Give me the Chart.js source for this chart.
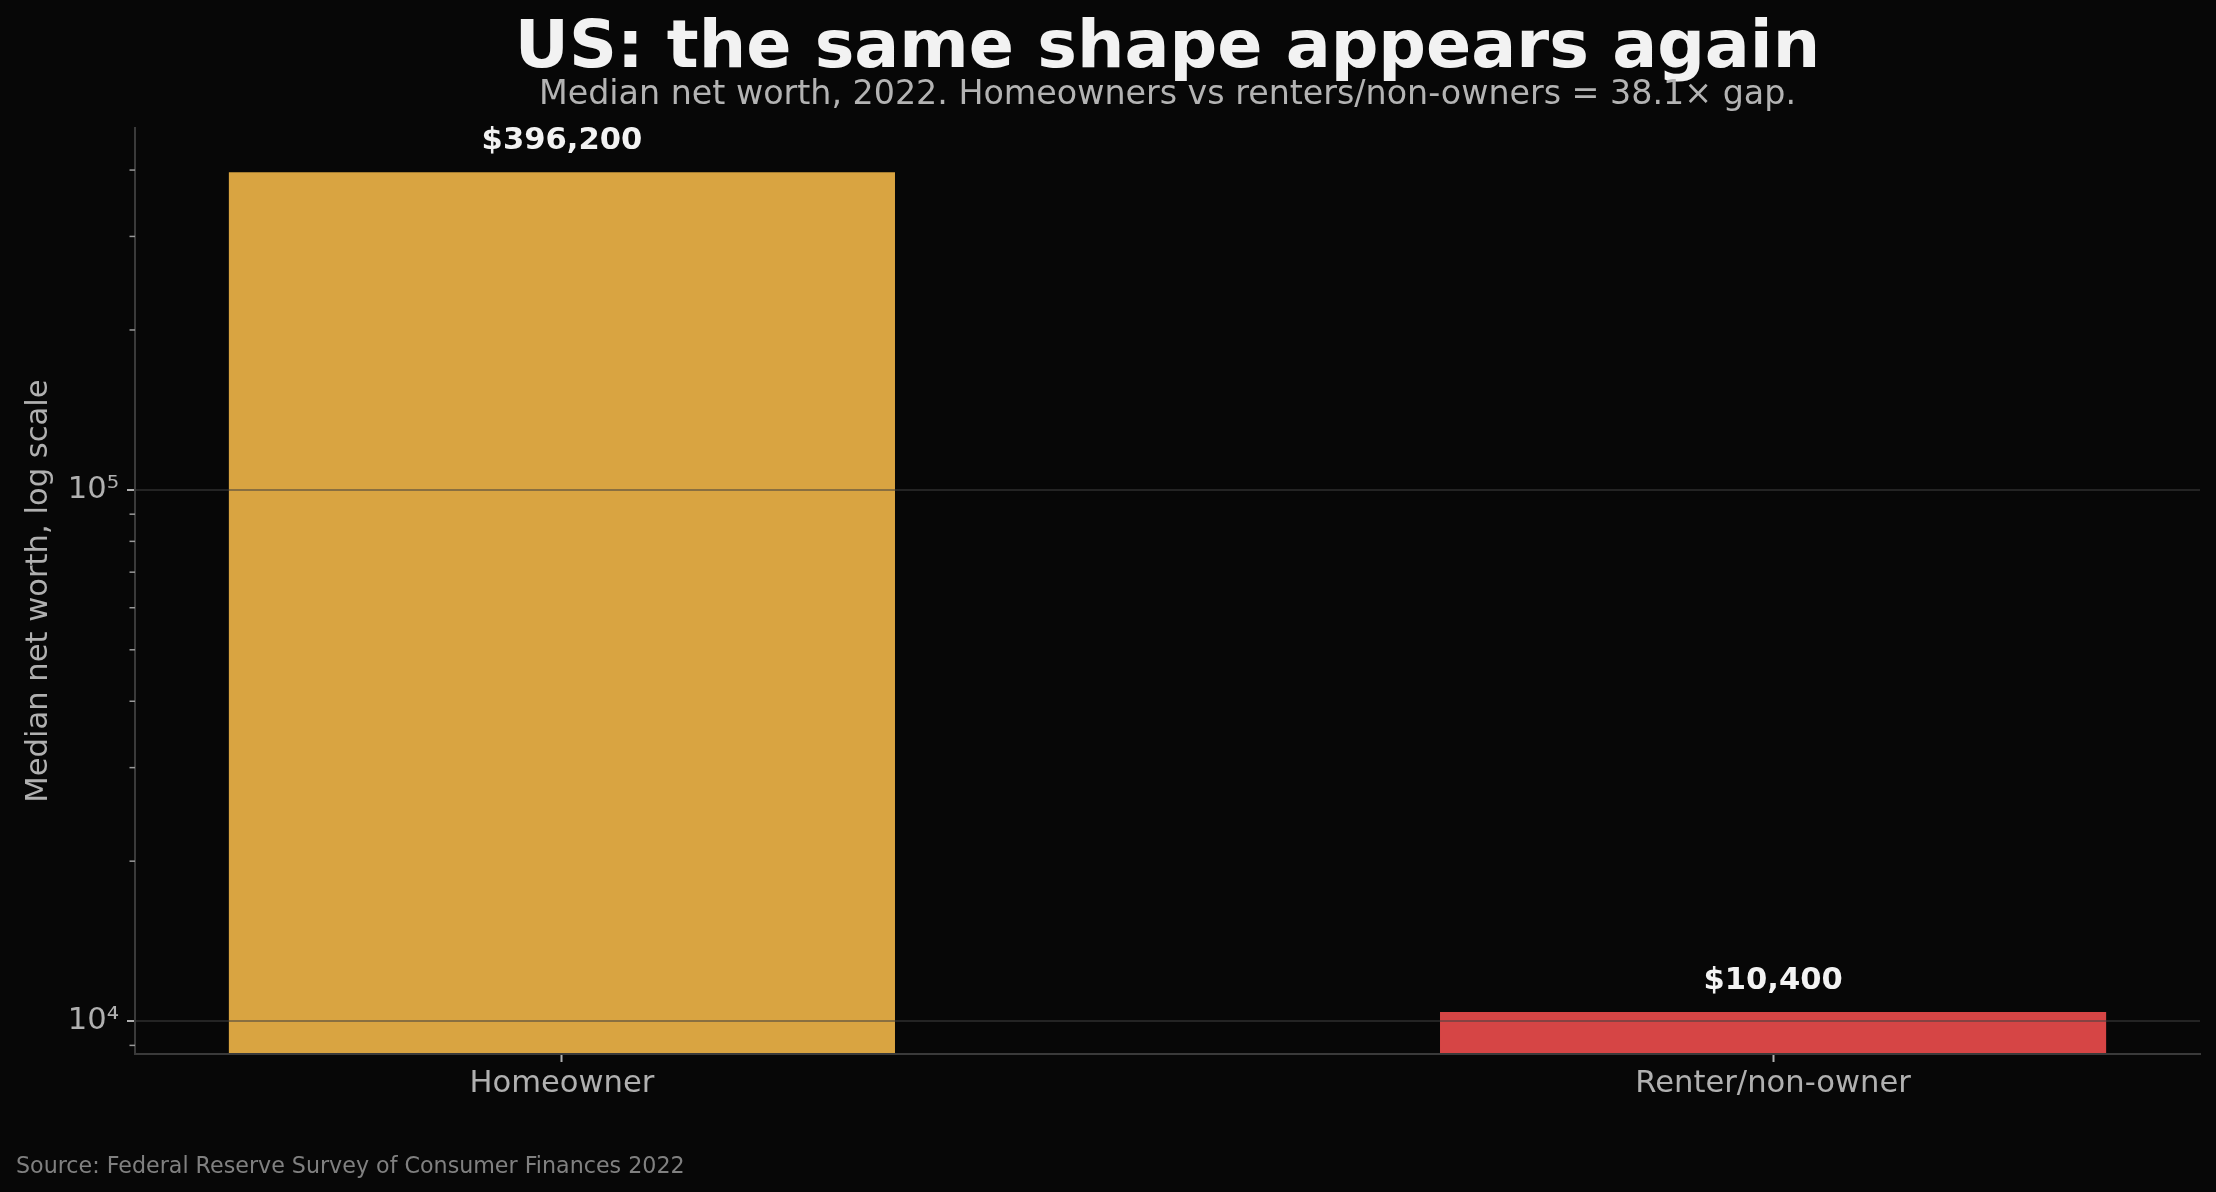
<!DOCTYPE html>
<html>
<head>
<meta charset="utf-8">
<script src="https://cdn.jsdelivr.net/npm/chart.js@4.4.1/dist/chart.umd.min.js"></script>
<style>
    body { margin: 0; background: #070707; font-family: "DejaVu Sans", sans-serif; }
    #wrap { position: relative; width: 2216px; height: 1192px; }
    #chart { position: absolute; left: 0; top: 0; }
    .txt { position: absolute; white-space: nowrap; line-height: normal; }
    #title { left: 135px; width: 2065px; top: 5px; text-align: center; font-size: 66.7px; font-weight: bold; color: #f2f2f2; }
    #subtitle { left: 135px; width: 2065px; top: 73px; text-align: center; font-size: 33.3px; color: #b3b3b3; }
    #source { left: 16px; top: 1152px; font-size: 22.2px; color: #808080; }
</style>
</head>
<body>
<div id="wrap">
    <canvas id="chart" width="2216" height="1192"></canvas>
    <div class="txt" id="title">US: the same shape appears again</div>
    <div class="txt" id="subtitle">Median net worth, 2022. Homeowners vs renters/non-owners = 38.1× gap.</div>
    <div class="txt" id="source">Source: Federal Reserve Survey of Consumer Finances 2022</div>
</div>
<script>
const categories = ["Homeowner", "Renter/non-owner"];
const netWorth = [396200, 10400];
const barColors = ["#d9a441", "#d64545"];

const yTickValues = [9000, 10000, 20000, 30000, 40000, 50000, 60000, 70000, 80000, 90000,
    100000, 200000, 300000, 400000];
const yMajorTicks = [10000, 100000];
const yMajorLabels = ["10⁴", "10⁵"];

const isMajor = (v) => yMajorTicks.indexOf(v) !== -1;

// small minor tick marks on the log axis (chart.js only has one tick length)
const minorTicks = {
    id: "minorTicks",
    afterDraw(chart) {
        const y = chart.scales.y;
        const ctx = chart.ctx;
        ctx.save();
        ctx.strokeStyle = "#9a9a9a";
        ctx.lineWidth = 1.5;
        yTickValues.forEach((v) => {
            if (isMajor(v)) return;
            const py = y.getPixelForValue(v);
            ctx.beginPath();
            ctx.moveTo(y.right - 5.5, py);
            ctx.lineTo(y.right, py);
            ctx.stroke();
        });
        ctx.restore();
    },
};

// "$396,200" above each bar
const valueLabels = {
    id: "valueLabels",
    afterDatasetsDraw(chart) {
        const ctx = chart.ctx;
        const meta = chart.getDatasetMeta(0);
        ctx.save();
        ctx.font = "bold 30.6px 'DejaVu Sans'";
        ctx.fillStyle = "#f2f2f2";
        ctx.textAlign = "center";
        ctx.textBaseline = "alphabetic";
        meta.data.forEach((bar, i) => {
            ctx.fillText("$" + netWorth[i].toLocaleString("en-US"), bar.x, bar.y - 23);
        });
        ctx.restore();
    },
};

Chart.defaults.font.family = "'DejaVu Sans'";

const ctx = document.getElementById("chart").getContext("2d");
new Chart(ctx, {
    type: "bar",
    data: {
        datasets: [
            {
                data: netWorth.map((v, i) => ({ x: i, y: v })),
                backgroundColor: barColors,
                borderWidth: 0,
                categoryPercentage: 1,
                barPercentage: 0.55,
            },
        ],
    },
    options: {
        responsive: false,
        animation: false,
        devicePixelRatio: 1,
        layout: { padding: { top: 128, right: 16, left: 0, bottom: 0 } },
        plugins: {
            legend: { display: false },
            tooltip: { enabled: false },
        },
        scales: {
            x: {
                type: "linear",
                min: -0.3525,
                max: 1.3525,
                offset: false,
                afterBuildTicks: (scale) => {
                    scale.ticks = categories.map((c, i) => ({ value: i }));
                },
                afterFit: (scale) => {
                    scale.height = 138;
                },
                grid: {
                    offset: false,
                    drawOnChartArea: false,
                    drawTicks: true,
                    tickLength: 8,
                    tickWidth: 2,
                    tickColor: "#b0b0b0",
                    z: 1,
                },
                border: { color: "#3a3a3a", width: 2, z: 1 },
                ticks: {
                    autoSkip: false,
                    maxRotation: 0,
                    padding: 4,
                    color: "#b0b0b0",
                    font: { size: 30.6 },
                    callback: (value) => categories[value] || "",
                },
            },
            y: {
                type: "logarithmic",
                min: 8670,
                max: 480000,
                afterBuildTicks: (scale) => {
                    scale.ticks = yTickValues.map((v) => ({ value: v }));
                },
                afterFit: (scale) => {
                    scale.width = 135;
                },
                grid: {
                    color: (c) => (c.tick && isMajor(c.tick.value) ? "rgba(64,64,64,0.52)" : "transparent"),
                    lineWidth: 2,
                    tickLength: 8,
                    tickWidth: 2,
                    tickColor: (c) => (c.tick && isMajor(c.tick.value) ? "#b0b0b0" : "transparent"),
                    z: 1,
                },
                border: { color: "#3a3a3a", width: 2, z: 1 },
                ticks: {
                    autoSkip: false,
                    padding: 8,
                    color: "#b0b0b0",
                    font: { size: 30.6 },
                    callback: (value) => {
                        const k = yMajorTicks.indexOf(value);
                        return k !== -1 ? yMajorLabels[k] : "";
                    },
                },
                title: {
                    display: true,
                    text: "Median net worth, log scale",
                    color: "#b0b0b0",
                    font: { size: 30.6 },
                    padding: { top: 21, bottom: 0 },
                },
            },
        },
    },
    plugins: [minorTicks, valueLabels],
});
</script>
</body>
</html>
